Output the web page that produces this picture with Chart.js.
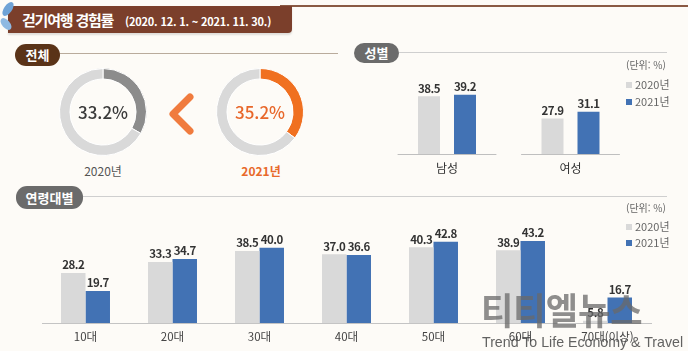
<!DOCTYPE html>
<html lang="ko">
<head>
<meta charset="utf-8">
<script src="https://cdn.jsdelivr.net/npm/chart.js@4/dist/chart.umd.min.js"></script>
<style>
  html, body { margin: 0; padding: 0; }
  body {
    width: 688px; height: 351px; position: relative; overflow: hidden;
    background: #fdfbf7;
    font-family: "Noto Sans CJK KR", "Noto Sans", sans-serif;
  }
  .abs { position: absolute; }
  canvas { position: absolute; }
  .topline { left: 280px; top: 5px; width: 408px; height: 2px; background: #8a5a44; }
  .banner {
    left: 8px; top: 6px; width: 284px; height: 27px; background: #7b3f2b;
    border-radius: 0 0 4px 0; box-shadow: 0 2px 2px rgba(0,0,0,0.12);
  }
  .banner .t1 { position: absolute; left: 14px; top: 3px; color: #fff; font-weight: 700; font-size: 15px; letter-spacing: -1.2px; }
  .banner .t2 { position: absolute; left: 117px; top: 7px; color: #fff; font-weight: 700; font-size: 11px; letter-spacing: -0.2px; }
  .pill { color: #fff; font-weight: 700; font-size: 13px; text-align: center; border-radius: 11px; }
  .rule { height: 1px; }
  .unit { font-size: 10px; color: #666; }
  .leg { font-size: 11px; color: #666; }
  .leg i { display: inline-block; width: 6px; height: 6px; margin-right: 3px; vertical-align: 1px; }
  .year { font-size: 12px; text-align: center; width: 80px; }
  .wm1 { left: 481px; top: 291px; font-size: 37px; line-height: 1; font-weight: 700; color: rgba(105,105,105,0.75); transform: scaleX(0.95); transform-origin: left top; white-space: nowrap; }
  .wm2 { left: 482px; top: 334px; font-family: "Liberation Sans", sans-serif; font-size: 14.2px; color: rgba(70,70,70,0.85); white-space: nowrap; }
</style>
</head>
<body>
<div class="abs topline"></div>
<div class="abs banner"><span class="t1">걷기여행 경험률</span><span class="t2">(2020. 12. 1. ~ 2021. 11. 30.)</span></div>
<svg class="abs" style="left:0;top:0" width="20" height="34">
  <ellipse cx="8" cy="9" rx="4" ry="8" fill="#6fa3d6" transform="rotate(35 8 9)"/>
  <ellipse cx="6" cy="24" rx="4" ry="7" fill="#8fb9e2" transform="rotate(-40 6 24)"/>
</svg>

<div class="abs pill" style="left:15px;top:44px;width:45px;height:22px;line-height:22px;background:#5a3318">전체</div>
<div class="abs rule" style="left:60px;top:53px;width:278px;background:#b9ab9c"></div>
<div class="abs pill" style="left:354px;top:43px;width:45px;height:20px;line-height:20px;background:#6b6b6b">성별</div>
<div class="abs rule" style="left:399px;top:52px;width:268px;background:#cfcfcf"></div>
<div class="abs pill" style="left:16px;top:186px;width:67px;height:23px;line-height:23px;background:#6b6b6b">연령대별</div>
<div class="abs rule" style="left:83px;top:196px;width:584px;background:#cfcfcf"></div>

<canvas id="donut2020" width="100" height="100" style="left:53px;top:62px"></canvas>
<canvas id="donut2021" width="100" height="100" style="left:210px;top:62px"></canvas>
<svg class="abs" style="left:166px;top:92px" width="30" height="44">
  <polyline points="24,5 7,22 24,39" fill="none" stroke="#f07b3e" stroke-width="7" stroke-linecap="round" stroke-linejoin="round"/>
</svg>
<div class="abs year" style="left:63px;top:162px;color:#555">2020년</div>
<div class="abs year" style="left:221px;top:162px;color:#e8692a;font-weight:700">2021년</div>

<canvas id="genderChart" width="348" height="130" style="left:340px;top:60px"></canvas>
<div class="abs unit" style="left:626px;top:57px">(단위: %)</div>
<div class="abs leg" style="left:626px;top:76px"><i style="background:#d9d9d9"></i>2020년</div>
<div class="abs leg" style="left:626px;top:93px"><i style="background:#4272b4"></i>2021년</div>

<canvas id="ageChart" width="688" height="151" style="left:0;top:200px"></canvas>
<div class="abs unit" style="left:626px;top:200px">(단위: %)</div>
<div class="abs leg" style="left:626px;top:218px"><i style="background:#d9d9d9"></i>2020년</div>
<div class="abs leg" style="left:626px;top:234px"><i style="background:#4272b4"></i>2021년</div>

<div class="abs wm1">티티엘뉴스</div>
<div class="abs wm2">Trend To Life Economy &amp; Travel</div>

<script>
const years = ['2020년', '2021년'];
const totalRates = [33.2, 35.2];

const genderLabels = ['남성', '여성'];
const gender2020 = [38.5, 27.9];
const gender2021 = [39.2, 31.1];

const ageLabels = ['10대', '20대', '30대', '40대', '50대', '60대', '70대(이상)'];
const age2020 = [28.2, 33.3, 38.5, 37.0, 40.3, 38.9, 5.8];
const age2021 = [19.7, 34.7, 40.0, 36.6, 42.8, 43.2, 16.7];

const grey = '#d9d9d9';
const blue = '#4272b4';
const fontFamily = '"Noto Sans CJK KR", "Noto Sans", sans-serif';

Chart.defaults.animation = false;
Chart.defaults.responsive = false;
Chart.defaults.font.family = fontFamily;

const centerText = {
    id: 'centerText',
    afterDraw(chart, args, opts) {
        const {ctx, chartArea} = chart;
        ctx.save();
        ctx.font = '500 17px ' + fontFamily;
        ctx.fillStyle = opts.color;
        ctx.textAlign = 'center';
        ctx.textBaseline = 'middle';
        ctx.fillText(opts.text, (chartArea.left + chartArea.right) / 2, (chartArea.top + chartArea.bottom) / 2 + 1);
        ctx.restore();
    },
};

const valueLabels = {
    id: 'valueLabels',
    afterDatasetsDraw(chart) {
        const {ctx} = chart;
        ctx.save();
        ctx.font = 'bold 11.5px ' + fontFamily;
        ctx.letterSpacing = '-0.5px';
        ctx.fillStyle = '#333';
        ctx.textAlign = 'center';
        ctx.textBaseline = 'middle';
        chart.data.datasets.forEach((ds, i) => {
            chart.getDatasetMeta(i).data.forEach((bar, j) => {
                ctx.fillText(ds.data[j].toFixed(1), bar.x, bar.y - 8);
            });
        });
        ctx.restore();
    },
};

// gender chart has a separate baseline under each group
const groupBaselines = {
    id: 'groupBaselines',
    afterDatasetsDraw(chart) {
        const {ctx, chartArea, scales} = chart;
        const half = scales.x.width / chart.data.labels.length * 0.4;
        ctx.save();
        ctx.strokeStyle = '#bfbfbf';
        ctx.lineWidth = 1;
        chart.data.labels.forEach((l, i) => {
            const x = scales.x.getPixelForValue(i);
            ctx.beginPath();
            ctx.moveTo(x - half, chartArea.bottom + 0.5);
            ctx.lineTo(x + half, chartArea.bottom + 0.5);
            ctx.stroke();
        });
        ctx.restore();
    },
};

const makeDonut = (id, value, color, textColor) => {
    new Chart(document.getElementById(id), {
        type: 'doughnut',
        data: {
            datasets: [{
                data: [value, 100 - value],
                backgroundColor: [color, '#d9d9d9'],
                borderColor: '#ffffff',
                borderWidth: 1,
                hoverOffset: 0,
            }],
        },
        options: {
            radius: 43.5,
            cutout: '76%',
            events: [],
            plugins: {
                legend: {display: false},
                tooltip: {enabled: false},
                centerText: {text: value.toFixed(1) + '%', color: textColor},
            },
        },
        plugins: [centerText],
    });
};

makeDonut('donut2020', totalRates[0], '#8c8c8c', '#3a3a3a');
makeDonut('donut2021', totalRates[1], '#f07020', '#e8672a');

new Chart(document.getElementById('genderChart'), {
    type: 'bar',
    data: {
        labels: genderLabels,
        datasets: [
            {label: years[0], data: gender2020, backgroundColor: grey},
            {label: years[1], data: gender2021, backgroundColor: blue},
        ],
    },
    options: {
        events: [],
        categoryPercentage: 0.583,
        barPercentage: 0.611,
        layout: {padding: {left: 45.25, right: 55.75, top: 22.6, bottom: 12}},
        plugins: {legend: {display: false}, tooltip: {enabled: false}},
        scales: {
            x: {
                grid: {display: false, drawTicks: false},
                border: {display: false},
                ticks: {color: '#333', font: {size: 12}, padding: 7},
                afterFit: (scale) => { scale.height = 24; },
            },
            y: {display: false, min: 11, max: 45},
        },
    },
    plugins: [valueLabels, groupBaselines],
});

new Chart(document.getElementById('ageChart'), {
    type: 'bar',
    data: {
        labels: ageLabels,
        datasets: [
            {label: years[0], data: age2020, backgroundColor: grey},
            {label: years[1], data: age2021, backgroundColor: blue},
        ],
    },
    options: {
        events: [],
        categoryPercentage: 0.563,
        barPercentage: 1,
        layout: {padding: {left: 42, right: 37, top: 26.5, bottom: 4}},
        plugins: {legend: {display: false}, tooltip: {enabled: false}},
        scales: {
            x: {
                grid: {display: false, drawTicks: false},
                border: {color: '#c4c4c4', width: 1},
                ticks: {color: '#444', font: {size: 11.5}, padding: 7},
                afterFit: (scale) => { scale.height = 24; },
            },
            y: {display: false, min: 4.7, max: 50},
        },
    },
    plugins: [valueLabels],
});
</script>
</body>
</html>
